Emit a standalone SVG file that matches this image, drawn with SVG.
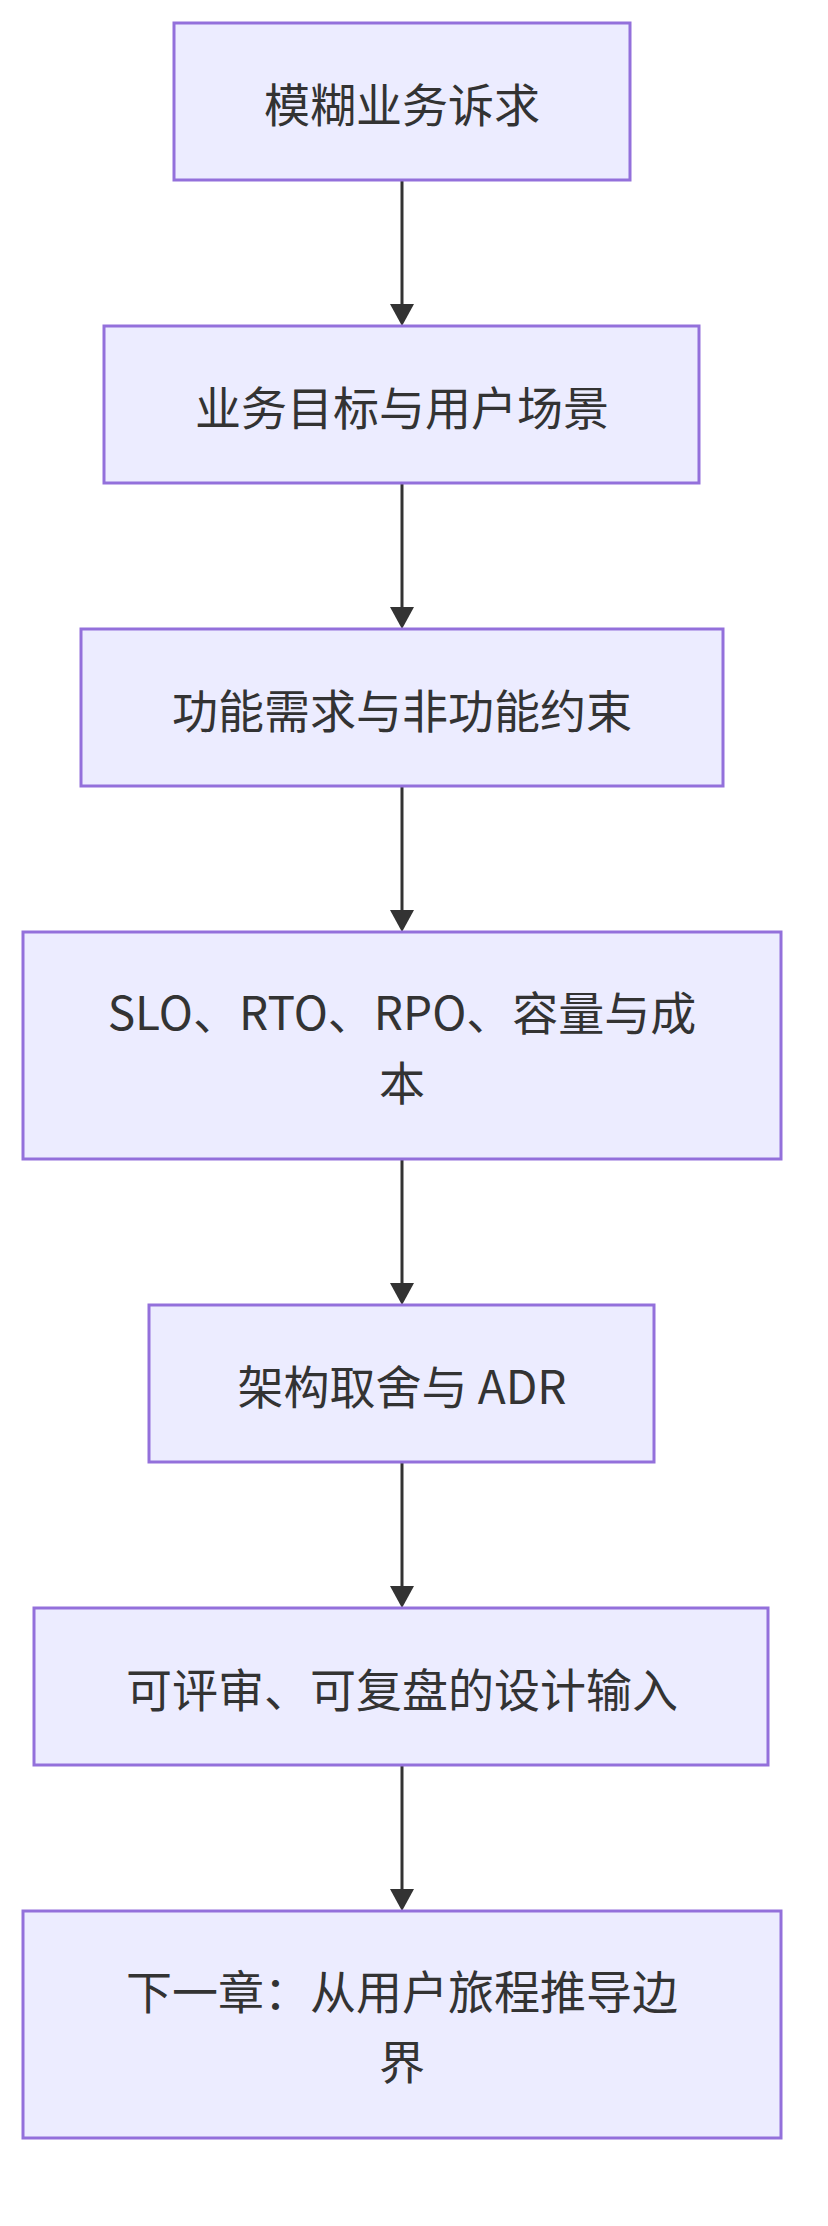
<svg xmlns="http://www.w3.org/2000/svg" width="828" height="2226" viewBox="0 0 828 2226">
<style>
.node rect{fill:#ECECFF;stroke:#9370DB;stroke-width:3}
.node text{font-family:"Noto Sans CJK SC","Noto Sans",sans-serif;font-size:46px;fill:#333;text-anchor:middle;dominant-baseline:central}
.edge{stroke:#333;stroke-width:3;fill:none}
.head{fill:#333}
</style>
<rect width="828" height="2226" fill="#fff"/>
<g id="connectors">
<line class="edge" x1="402" y1="180" x2="402" y2="306"/><polygon class="head" points="390,304 414,304 402,326"/>
<line class="edge" x1="402" y1="483" x2="402" y2="609"/><polygon class="head" points="390,607 414,607 402,629"/>
<line class="edge" x1="402" y1="786" x2="402" y2="912"/><polygon class="head" points="390,910 414,910 402,932"/>
<line class="edge" x1="402" y1="1159" x2="402" y2="1285"/><polygon class="head" points="390,1283 414,1283 402,1305"/>
<line class="edge" x1="402" y1="1462" x2="402" y2="1588"/><polygon class="head" points="390,1586 414,1586 402,1608"/>
<line class="edge" x1="402" y1="1765" x2="402" y2="1891"/><polygon class="head" points="390,1889 414,1889 402,1911"/>
</g>
<g id="n1" class="node"><rect x="174" y="23" width="456" height="157"/><text x="402" y="101.5">模糊业务诉求</text></g>
<g id="n2" class="node"><rect x="104" y="326" width="595" height="157"/><text x="402" y="404.5">业务目标与用户场景</text></g>
<g id="n3" class="node"><rect x="81" y="629" width="642" height="157"/><text x="402" y="707.5">功能需求与非功能约束</text></g>
<g id="n4" class="node"><rect x="23" y="932" width="758" height="227"/><text x="402" y="1010">SLO、RTO、RPO、容量与成</text><text x="402" y="1080">本</text></g>
<g id="n5" class="node"><rect x="149" y="1305" width="505" height="157"/><text x="402" y="1383.5">架构取舍与 ADR</text></g>
<g id="n6" class="node"><rect x="34" y="1608" width="734" height="157"/><text x="402" y="1686.5">可评审、可复盘的设计输入</text></g>
<g id="n7" class="node"><rect x="23" y="1911" width="758" height="227"/><text x="402" y="1989">下一章：从用户旅程推导边</text><text x="402" y="2059">界</text></g>
</svg>
